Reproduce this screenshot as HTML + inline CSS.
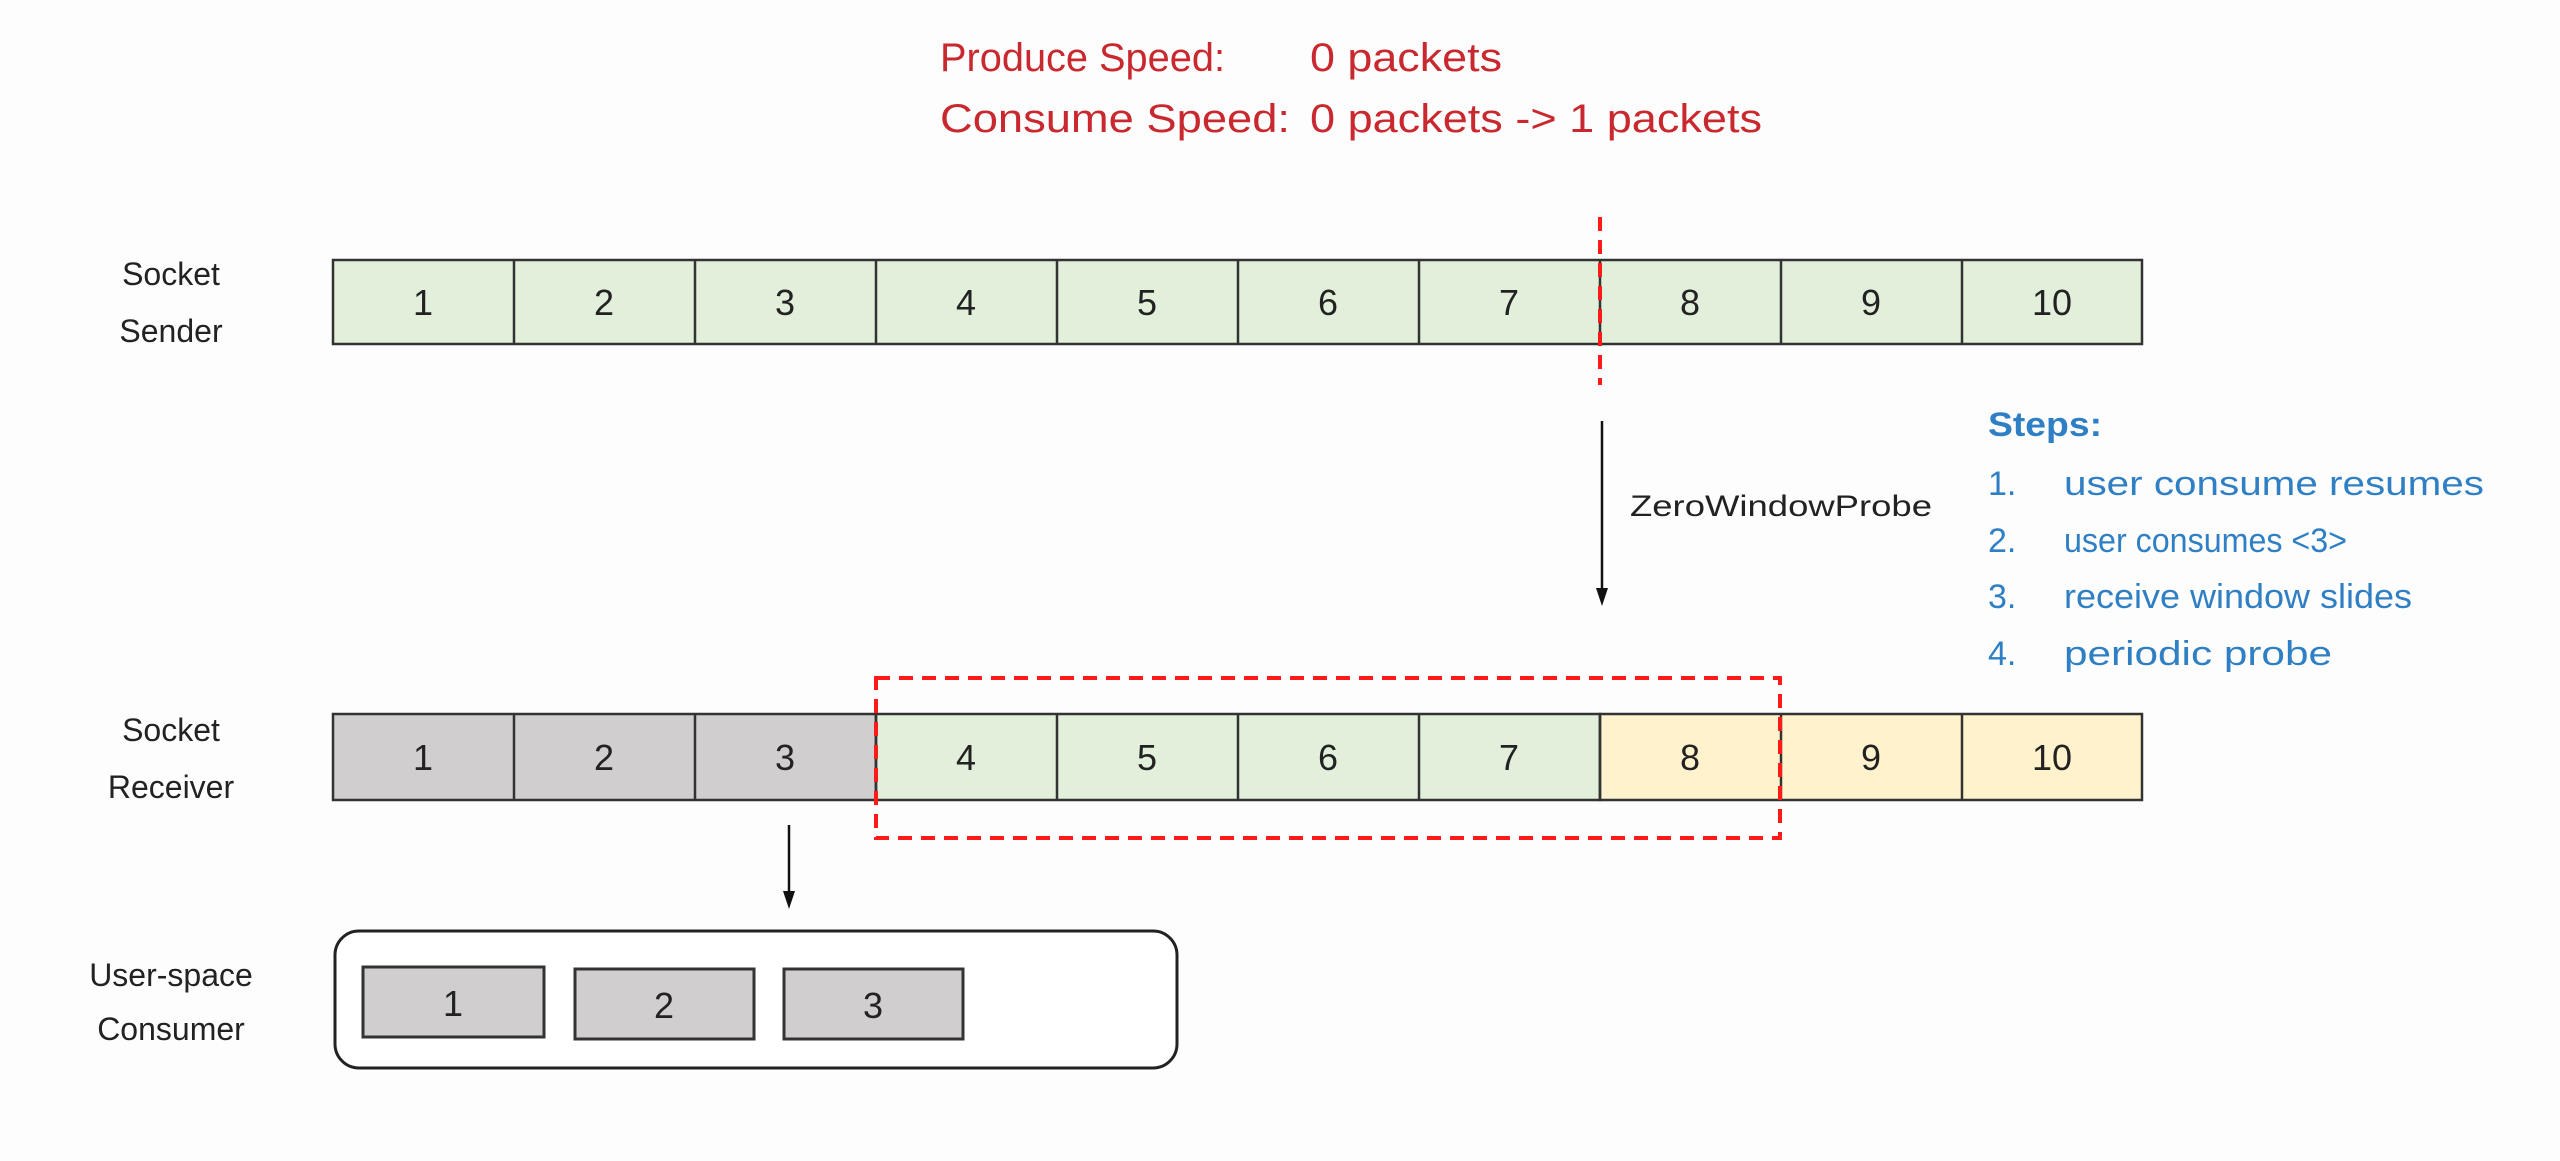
<!DOCTYPE html>
<html><head><meta charset="utf-8"><style>
html,body{margin:0;padding:0;background:#fdfdfd;}
svg{display:block;}
text{font-family:"Liberation Sans",sans-serif;}
</style></head><body>
<svg width="2560" height="1161" viewBox="0 0 2560 1161" xmlns="http://www.w3.org/2000/svg">
<rect width="2560" height="1161" fill="#fdfdfd"/>
<g fill="#c8282e" font-size="40">
<text x="940" y="71" textLength="285" lengthAdjust="spacingAndGlyphs">Produce Speed:</text>
<text x="1310" y="71" textLength="192" lengthAdjust="spacingAndGlyphs">0 packets</text>
<text x="940" y="132" textLength="350" lengthAdjust="spacingAndGlyphs">Consume Speed:</text>
<text x="1310" y="132" textLength="452" lengthAdjust="spacingAndGlyphs">0 packets -&gt; 1 packets</text>
</g>
<g font-size="32" fill="#222" text-anchor="middle">
<text x="171" y="285">Socket</text><text x="171" y="342">Sender</text>
<text x="171" y="741">Socket</text><text x="171" y="798">Receiver</text>
<text x="171" y="986">User-space</text><text x="171" y="1040">Consumer</text>
</g>
<g stroke="#333" stroke-width="2.5" font-size="36">
<rect x="333" y="260" width="1809" height="84" fill="#e2efda"/>
<rect x="333" y="714" width="543" height="86" fill="#d0cece"/>
<rect x="876" y="714" width="724" height="86" fill="#e2efda"/>
<rect x="1600" y="714" width="542" height="86" fill="#fff2cc"/>
<path d="M514 260V344M695 260V344M876 260V344M1057 260V344M1238 260V344M1419 260V344M1600 260V344M1781 260V344M1962 260V344"/>
<path d="M514 714V800M695 714V800M876 714V800M1057 714V800M1238 714V800M1419 714V800M1600 714V800M1781 714V800M1962 714V800"/>
</g>
<g font-size="36" fill="#222" text-anchor="middle">
<text x="423" y="315">1</text><text x="604" y="315">2</text><text x="785" y="315">3</text><text x="966" y="315">4</text><text x="1147" y="315">5</text><text x="1328" y="315">6</text><text x="1509" y="315">7</text><text x="1690" y="315">8</text><text x="1871" y="315">9</text><text x="2052" y="315">10</text>
<text x="423" y="770">1</text><text x="604" y="770">2</text><text x="785" y="770">3</text><text x="966" y="770">4</text><text x="1147" y="770">5</text><text x="1328" y="770">6</text><text x="1509" y="770">7</text><text x="1690" y="770">8</text><text x="1871" y="770">9</text><text x="2052" y="770">10</text>
</g>
<g stroke="#ff1a1a" stroke-width="4" fill="none" stroke-dasharray="14,9">
<path d="M1600 217V385"/>
<rect x="876" y="678" width="904" height="160"/>
</g>
<g stroke="#111" stroke-width="2.5">
<path d="M1602 421V590"/><path d="M789 825V893"/>
</g>
<path d="M1596 588L1602 606L1608 588Z" fill="#111"/>
<path d="M783 891L789 909L795 891Z" fill="#111"/>
<text x="1630" y="516" font-size="30" fill="#222" textLength="302" lengthAdjust="spacingAndGlyphs">ZeroWindowProbe</text>
<g fill="#2f7fc4" font-size="34">
<text x="1988" y="436" font-weight="bold" textLength="114" lengthAdjust="spacingAndGlyphs">Steps:</text>
<text x="1988" y="495">1.</text><text x="2064" y="495" textLength="420" lengthAdjust="spacingAndGlyphs">user consume resumes</text>
<text x="1988" y="552">2.</text><text x="2064" y="552" textLength="283" lengthAdjust="spacingAndGlyphs">user consumes &lt;3&gt;</text>
<text x="1988" y="608">3.</text><text x="2064" y="608" textLength="348" lengthAdjust="spacingAndGlyphs">receive window slides</text>
<text x="1988" y="665">4.</text><text x="2064" y="665" textLength="268" lengthAdjust="spacingAndGlyphs">periodic probe</text>
</g>
<rect x="335" y="931" width="842" height="137" rx="24" fill="#fff" stroke="#222" stroke-width="3"/>
<g fill="#d0cece" stroke="#333" stroke-width="3">
<rect x="363" y="967" width="181" height="70"/>
<rect x="575" y="969" width="179" height="70"/>
<rect x="784" y="969" width="179" height="70"/>
</g>
<g font-size="36" fill="#222" text-anchor="middle">
<text x="453" y="1016">1</text><text x="664" y="1018">2</text><text x="873" y="1018">3</text>
</g>
</svg>
</body></html>
